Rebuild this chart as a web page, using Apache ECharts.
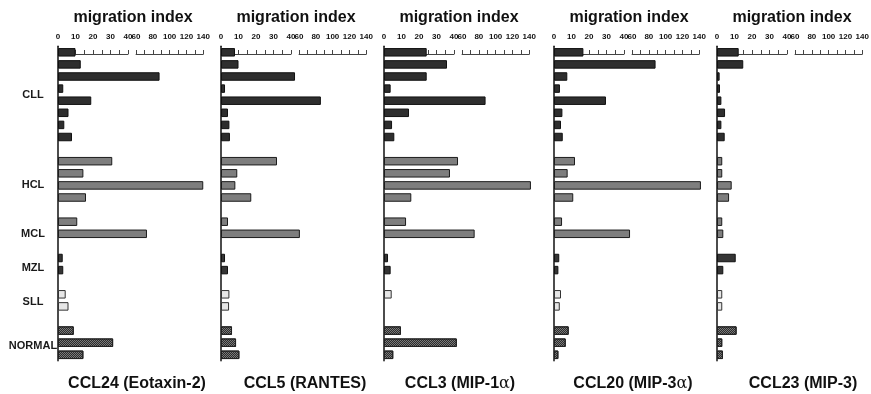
<!DOCTYPE html>
<html>
<head>
<meta charset="utf-8">
<script src="https://cdn.jsdelivr.net/npm/echarts@6/dist/echarts.min.js"></script>
<style>
  html, body { margin: 0; padding: 0; background: #fff; }
  #chart { width: 871px; height: 394px; }
</style>
</head>
<body>
<div id="chart"></div>
<script>
// Patient groups and how many samples each contributes
const groupNames = ['CLL', 'HCL', 'MCL', 'MZL', 'SLL', 'NORMAL'];
const groupSizes = [8, 4, 2, 2, 2, 3];

// Chemokine panels (bottom captions)
const chemokines = ['CCL24 (Eotaxin-2)', 'CCL5 (RANTES)', 'CCL3 (MIP-1\u03b1)', 'CCL20 (MIP-3\u03b1)', 'CCL23 (MIP-3)'];

// Tick labels on the two segments of the broken axis
const lowTicks = [0, 10, 20, 30, 40];
const highTicks = [60, 80, 100, 120, 140];

// Migration index per sample, in group order (CLL x8, HCL x4, MCL x2, MZL x2, SLL x2, NORMAL x3)
const ccl24 = [10, 13, 88, 3, 19, 6, 3.6, 8,   31, 14.5, 140, 16,   11, 73,   2.7, 3,   4.4, 6,   9, 31.5, 14.5];
const ccl5  = [8, 10, 50, 2.3, 86, 4, 4.8, 5.1,   32, 9.3, 8.2, 17.3,   4, 61,   2.3, 4,   4.8, 4.6,   6.3, 8.6, 10.5];
const ccl3  = [24.4, 36, 24.4, 3.8, 88, 14.3, 4.6, 5.9,   50, 37.7, 142, 15.6,   12.6, 75,   2.3, 3.8,   4.4, null,   9.7, 47, 5.3];
const ccl20 = [16.8, 88, 7.6, 3.4, 29.7, 4.8, 4, 5,   12, 7.8, 142, 11,   4.6, 55,   3, 2.5,   4, 3.3,   8.4, 6.7, 2.5];
const ccl23 = [12.4, 15, 1.5, 1.7, 2.5, 4.6, 2.5, 4.4,   3, 3, 8.4, 6.9,   3, 3.6,   10.7, 3.6,   3, 3,   11.2, 3, 3.4];

const panelValues = [ccl24, ccl5, ccl3, ccl20, ccl23];

// ---- broken-axis geometry: 0-40 at full scale, 60-140 compressed ----
const BREAK_LO = 40, BREAK_HI = 60;
const GAP = 4.6;          // width of the break, in display units
const HIGH_RATIO = 0.48;  // scale of the upper segment relative to the lower one
const PX = 1.75;          // pixels per display unit

function toDisplay(v) {
  if (v == null) return null;
  if (v <= BREAK_LO) return v;
  if (v >= BREAK_HI) return BREAK_LO + GAP + (v - BREAK_HI) * HIGH_RATIO;
  return BREAK_LO + (v - BREAK_LO) / (BREAK_HI - BREAK_LO) * GAP;
}
const D_MAX = toDisplay(150);

const panelLeft = [58, 221, 384, 554, 717];
const captionX = [137, 305, 460, 633, 803];
const ROW_H = 12.1;
const TOP = 46.25;

// category rows with one blank row between groups
const rowKeys = [];
const rowOfValue = [];
groupNames.forEach((g, gi) => {
  for (let k = 0; k < groupSizes[gi]; k++) {
    rowOfValue.push(rowKeys.length);
    rowKeys.push(g + ' ' + (k + 1));
  }
  if (gi < groupNames.length - 1) rowKeys.push('gap ' + gi);
});
const PLOT_H = rowKeys.length * ROW_H;

const hatch = {
  symbol: 'rect', symbolSize: 1,
  dashArrayX: [[1, 1], [0, 1, 1, 0]],
  dashArrayY: [1, 0],
  color: 'rgba(25,25,25,0.8)'
};
const groupStyle = {
  CLL:    { color: '#2e2e2e', borderColor: '#111', borderWidth: 1 },
  HCL:    { color: '#7e7e7e', borderColor: '#1c1c1c', borderWidth: 1 },
  MCL:    { color: '#7e7e7e', borderColor: '#1c1c1c', borderWidth: 1 },
  MZL:    { color: '#353535', borderColor: '#111', borderWidth: 1 },
  SLL:    { color: '#e6e6e6', borderColor: '#333', borderWidth: 1 },
  NORMAL: { color: '#7a7a7a', borderColor: '#222', borderWidth: 1, decal: hatch }
};

const grid = [], xAxis = [], yAxis = [], series = [], graphic = [];
const FONT = 'Liberation Sans, Arial, sans-serif';

function tickAxis(gi, min, max, interval, labels) {
  return {
    gridIndex: gi, type: 'value', position: 'top', min, max, interval,
    axisLine: { show: true, lineStyle: { color: '#444', width: 1 } },
    axisTick: { show: true, length: 4, lineStyle: { color: '#444', width: 1 } },
    minorTick: { show: true, splitNumber: 2, length: 4, lineStyle: { color: '#444', width: 1 } },
    splitLine: { show: false },
    axisLabel: {
      customValues: labels, margin: 3, fontSize: 8, fontWeight: 'bold',
      color: '#111', fontFamily: FONT
    }
  };
}

panelValues.forEach((vals, pi) => {
  const L = panelLeft[pi];
  const g0 = pi * 3;
  // bars
  grid.push({ left: L, top: TOP, width: D_MAX * PX, height: PLOT_H, containLabel: false, outerBoundsMode: 'none' });
  // axis segments
  grid.push({ left: L, top: 44, width: BREAK_LO * PX, height: 10, containLabel: false, outerBoundsMode: 'none' });
  grid.push({ left: L + (BREAK_LO + GAP) * PX, top: 44, width: (140 - BREAK_HI) * HIGH_RATIO * PX, height: 10, containLabel: false, outerBoundsMode: 'none' });

  xAxis.push({ gridIndex: g0, type: 'value', min: 0, max: D_MAX, show: false });
  xAxis.push(tickAxis(g0 + 1, 0, 40, 10, lowTicks));
  xAxis.push(tickAxis(g0 + 2, 60, 140, 20, highTicks));

  yAxis.push({
    gridIndex: g0, type: 'category', inverse: true, data: rowKeys,
    axisLine: { show: true, lineStyle: { color: '#111', width: 1.5 } },
    axisTick: { show: false }, axisLabel: { show: false }, splitLine: { show: false }
  });
  yAxis.push({ gridIndex: g0 + 1, type: 'value', show: false });
  yAxis.push({ gridIndex: g0 + 2, type: 'value', show: false });

  let idx = 0;
  groupNames.forEach((g, gi) => {
    const data = rowKeys.map(() => null);
    for (let k = 0; k < groupSizes[gi]; k++) {
      data[rowOfValue[idx]] = toDisplay(vals[idx]);
      idx++;
    }
    series.push({
      type: 'bar', name: g, xAxisIndex: g0, yAxisIndex: g0, stack: 'panel' + pi,
      data, barWidth: 8.5, itemStyle: groupStyle[g], silent: true
    });
  });

  graphic.push({
    type: 'text', x: L + 75, y: 18,
    style: { text: 'migration index', font: 'bold 16px ' + FONT, fill: '#111', align: 'center', verticalAlign: 'middle' }
  });

  const cap = chemokines[pi];
  const alphaAt = cap.indexOf('\u03b1');
  const capText = alphaAt < 0 ? '{b|' + cap + '}'
    : '{b|' + cap.slice(0, alphaAt) + '}{a|\u03b1}{b|' + cap.slice(alphaAt + 1) + '}';
  graphic.push({
    type: 'text', x: captionX[pi], y: 384,
    style: {
      text: capText, align: 'center', verticalAlign: 'middle',
      rich: {
        b: { font: 'bold 16px ' + FONT, fill: '#111' },
        a: { font: '16px DejaVu Serif, serif', fill: '#111' }
      }
    }
  });
});

// group labels beside the first panel
const groupLabelRow = [3.5, 11, 15, 17.8, 20.6, 24.3];
groupNames.forEach((g, gi) => {
  graphic.push({
    type: 'text', x: 33, y: TOP + (groupLabelRow[gi] + 0.5) * ROW_H,
    style: { text: g, font: 'bold 11px ' + FONT, fill: '#1a1a1a', align: 'center', verticalAlign: 'middle' }
  });
});

const chart = echarts.init(document.getElementById('chart'), null, { renderer: 'canvas' });
chart.setOption({
  animation: false,
  backgroundColor: '#fff',
  grid, xAxis, yAxis, series, graphic
});
</script>
</body>
</html>
